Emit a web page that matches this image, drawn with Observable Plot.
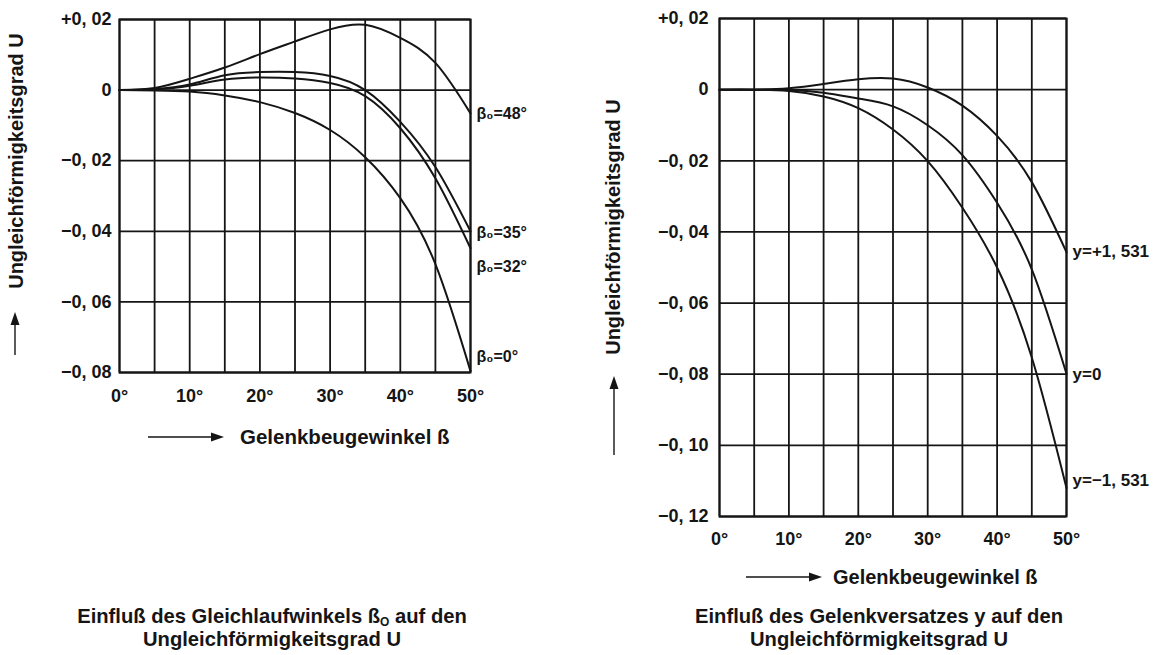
<!DOCTYPE html>
<html>
<head>
<meta charset="utf-8">
<script src="https://cdn.jsdelivr.net/npm/d3@7"></script>
<script src="https://cdn.jsdelivr.net/npm/@observablehq/plot@0.6"></script>
<style>
  html, body { margin: 0; padding: 0; background: #fff; }
  #root { position: relative; width: 1156px; height: 655px; background: #fff; overflow: hidden; font-family: "Liberation Sans", Arial, sans-serif; color: #151515; }
  .ylab { position: absolute; transform: translate(-50%, -50%) rotate(-90deg); white-space: nowrap; font-weight: bold; }
  .xlab { position: absolute; transform: translateY(-50%); white-space: nowrap; font-weight: bold; }
  .cap { position: absolute; transform: translateX(-50%); text-align: center; white-space: nowrap; font-family: "Liberation Sans", Arial, sans-serif; font-weight: bold; font-size: 20.2px; line-height: 23px; }
  .sub { position: relative; top: 3px; font-size: 12px; line-height: 0; }
</style>
</head>
<body>
<div id="root"></div>
<script>
// ---------- data ----------
const angles = [0, 5, 10, 15, 20, 25, 30, 35, 40, 45, 50];
const gridAngles = [0, 5, 10, 15, 20, 25, 30, 35, 40, 45, 50];
const xTickAngles = [0, 10, 20, 30, 40, 50];

// Left chart: influence of Gleichlaufwinkel beta0
const leftSeriesNames = ["β₀=48°", "β₀=35°", "β₀=32°", "β₀=0°"];
const beta48 = [0, 0.0006, 0.0032, 0.0064, 0.0102, 0.0138, 0.0172, 0.0185, 0.0148, 0.0077, -0.0066];
const beta35 = [0, 0.0003, 0.0016, 0.0042, 0.0051, 0.0051, 0.0040, 0.0000, -0.0090, -0.0218, -0.0400];
const beta32 = [0, 0.0002, 0.0012, 0.0030, 0.0036, 0.0033, 0.0020, -0.0017, -0.0108, -0.0250, -0.0448];
const beta0  = [0, -0.0001, -0.0004, -0.0015, -0.0034, -0.0065, -0.0113, -0.0190, -0.0306, -0.0493, -0.0796];
const leftLabelU = [-0.0068, -0.0405, -0.0500, -0.0757];
const leftYTicks = [0.02, 0, -0.02, -0.04, -0.06, -0.08];
const leftYTickLabels = ["+0, 02", "0", "−0, 02", "−0, 04", "−0, 06", "−0, 08"];

// Right chart: influence of Gelenkversatz y
const rightSeriesNames = ["y=+1, 531", "y=0", "y=−1, 531"];
const yPlus  = [0, 0, 0.0004, 0.0016, 0.0029, 0.0031, 0.0006, -0.0045, -0.0130, -0.0260, -0.0457];
const yZero  = [0, 0, -0.0001, -0.0009, -0.0025, -0.0047, -0.0100, -0.0184, -0.0318, -0.0505, -0.0799];
const yMinus = [0, 0, -0.0004, -0.0019, -0.0052, -0.0112, -0.0201, -0.0332, -0.0500, -0.0753, -0.1120];
const rightLabelU = [-0.0456, -0.0800, -0.1100];
const rightYTicks = [0.02, 0, -0.02, -0.04, -0.06, -0.08, -0.10, -0.12];
const rightYTickLabels = ["+0, 02", "0", "−0, 02", "−0, 04", "−0, 06", "−0, 08", "−0, 10", "−0, 12"];

const axisTitleY = "Ungleichförmigkeitsgrad U";
const axisTitleX = "Gelenkbeugewinkel ß";

// ---------- helpers ----------
function toRows(names, seriesList) {
  const rows = [];
  seriesList.forEach((vals, i) => vals.forEach((u, j) => rows.push({s: names[i], x: angles[j], u})));
  return rows;
}
const INK = "#151515";

function chart({width, height, mL, mR, mT, mB, yDomain, yTicks, yTickLabels, names, series, labelU, tickPadX, tickPadY, fontSize, labelSize}) {
  const rows = toRows(names, series);
  const labels = names.map((n, i) => ({n, x: 50, u: labelU[i]}));
  return Plot.plot({
    width, height,
    marginLeft: mL, marginRight: mR, marginTop: mT, marginBottom: mB,
    style: {fontFamily: "Liberation Sans, Arial, sans-serif", fontSize: fontSize + "px", fontWeight: "bold", color: INK, background: "transparent", overflow: "visible"},
    x: {domain: [0, 50], label: null},
    y: {domain: yDomain, label: null},
    marks: [
      Plot.ruleX(gridAngles, {stroke: INK, strokeWidth: 1.8}),
      Plot.ruleY(yTicks, {stroke: INK, strokeWidth: 1.8}),
      Plot.frame({stroke: INK, strokeWidth: 2}),
      Plot.line(rows, {x: "x", y: "u", z: "s", curve: "natural", stroke: INK, strokeWidth: 2}),
      Plot.text(labels, {x: "x", y: "u", text: "n", dx: 6, textAnchor: "start", fontSize: labelSize, fontWeight: "bold", fill: INK}),
      Plot.axisX(xTickAngles, {tickSize: 0, tickPadding: tickPadX, tickFormat: d => d + "°", label: null, fontWeight: "bold"}),
      Plot.axisY(yTicks, {tickSize: 0, tickPadding: tickPadY, tickFormat: d => yTickLabels[yTicks.indexOf(d)], label: null, fontWeight: "bold"})
    ]
  });
}

function arrow(x1, y1, x2, y2) {
  const ns = "http://www.w3.org/2000/svg";
  const svg = document.createElementNS(ns, "svg");
  svg.setAttribute("width", 1156); svg.setAttribute("height", 655);
  svg.style.position = "absolute"; svg.style.left = "0"; svg.style.top = "0";
  const ang = Math.atan2(y2 - y1, x2 - x1);
  const L = 13, W = 4.5;
  const bx = x2 - L * Math.cos(ang), by = y2 - L * Math.sin(ang);
  const line = document.createElementNS(ns, "line");
  line.setAttribute("x1", x1); line.setAttribute("y1", y1); line.setAttribute("x2", bx); line.setAttribute("y2", by);
  line.setAttribute("stroke", INK); line.setAttribute("stroke-width", 1.4);
  const poly = document.createElementNS(ns, "polygon");
  const px = -Math.sin(ang) * W, py = Math.cos(ang) * W;
  poly.setAttribute("points", `${x2},${y2} ${bx + px},${by + py} ${bx - px},${by - py}`);
  poly.setAttribute("fill", INK);
  svg.appendChild(line); svg.appendChild(poly);
  return svg;
}

const root = document.getElementById("root");

const left = chart({
  width: 560, height: 460, mL: 119, mR: 90, mT: 19, mB: 88,
  yDomain: [-0.08, 0.02], yTicks: leftYTicks, yTickLabels: leftYTickLabels,
  names: leftSeriesNames, series: [beta48, beta35, beta32, beta0], labelU: leftLabelU,
  tickPadX: 17, tickPadY: 8, fontSize: 18, labelSize: 16
});
left.style.position = "absolute"; left.style.left = "0px"; left.style.top = "0px";
root.appendChild(left);

const right = chart({
  width: 556, height: 560, mL: 119, mR: 90, mT: 18, mB: 44,
  yDomain: [-0.12, 0.02], yTicks: rightYTicks, yTickLabels: rightYTickLabels,
  names: rightSeriesNames, series: [yPlus, yZero, yMinus], labelU: rightLabelU,
  tickPadX: 16, tickPadY: 11, fontSize: 18, labelSize: 17
});
right.style.position = "absolute"; right.style.left = "600px"; right.style.top = "0px";
root.appendChild(right);

// axis titles
function addDiv(cls, text, x, y, extra) {
  const d = document.createElement("div");
  d.className = cls; d.textContent = text;
  d.style.left = x + "px"; d.style.top = y + "px";
  if (extra) Object.assign(d.style, extra);
  root.appendChild(d);
  return d;
}
addDiv("ylab", axisTitleY, 16, 161, {fontSize: "20px"});
addDiv("ylab", axisTitleY, 613, 227, {fontSize: "20px"});
addDiv("xlab", axisTitleX, 240, 437, {fontSize: "20.5px"});
addDiv("xlab", axisTitleX, 833, 577, {fontSize: "20px"});

root.appendChild(arrow(15, 355, 15, 312));
root.appendChild(arrow(614, 455, 614, 376));
root.appendChild(arrow(148, 437, 224, 437));
root.appendChild(arrow(746, 577, 822, 577));

// captions
const c1 = document.createElement("div");
c1.className = "cap"; c1.style.left = "272px"; c1.style.top = "605px";
c1.innerHTML = "Einfluß des Gleichlaufwinkels ß<span class='sub'>O</span> auf den<br>Ungleichförmigkeitsgrad U";
root.appendChild(c1);
const c2 = document.createElement("div");
c2.className = "cap"; c2.style.left = "879px"; c2.style.top = "605px";
c2.innerHTML = "Einfluß des Gelenkversatzes y auf den<br>Ungleichförmigkeitsgrad U";
root.appendChild(c2);
</script>
</body>
</html>
